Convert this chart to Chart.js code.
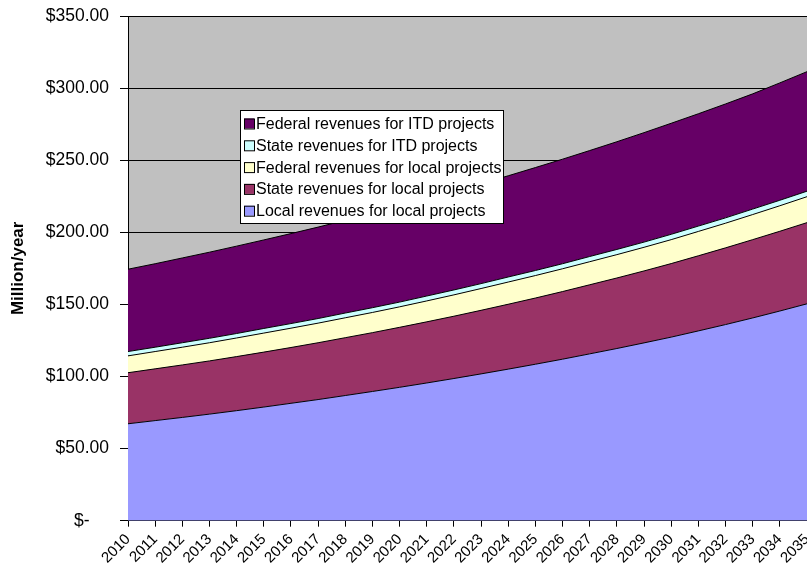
<!DOCTYPE html>
<html>
<head>
<meta charset="utf-8">
<script src="https://cdn.jsdelivr.net/npm/chart.js"></script>
<style>
  html, body { margin: 0; padding: 0; background: #ffffff; }
</style>
</head>
<body>
<canvas id="myChart" width="807" height="571"></canvas>
<script>
// values, million $ per year
const years = ['2010', '2011', '2012', '2013', '2014', '2015', '2016', '2017', '2018',
  '2019', '2020', '2021', '2022', '2023', '2024', '2025', '2026', '2027', '2028',
  '2029', '2030', '2031', '2032', '2033', '2034', '2035'];

const localForLocal = [67.2, 69.4, 71.6, 73.9, 76.3, 78.8, 81.4, 84.0, 86.8, 89.6, 92.5,
  95.5, 98.6, 101.8, 105.1, 108.5, 112.0, 115.7, 119.4, 123.3, 127.3, 131.6, 136.0,
  140.6, 145.4, 150.4];
const stateForLocal = [35.4, 35.9, 36.4, 36.9, 37.5, 38.1, 38.7, 39.4, 40.1, 40.8, 41.6,
  42.4, 43.2, 44.1, 45.0, 45.9, 46.9, 47.9, 48.9, 49.9, 51.0, 52.1, 53.2, 54.3, 55.3, 56.3];
const federalForLocal = [11.7, 12.0, 12.3, 12.6, 12.9, 13.2, 13.4, 13.6, 13.8, 14.0, 14.2,
  14.5, 14.8, 15.1, 15.4, 15.6, 15.8, 16.0, 16.2, 16.4, 16.6, 16.9, 17.1, 17.4, 17.7, 18.0];
const stateForITD = [3.0, 3.0, 3.1, 3.1, 3.1, 3.2, 3.2, 3.2, 3.3, 3.3, 3.3, 3.4, 3.4, 3.4,
  3.5, 3.5, 3.5, 3.6, 3.6, 3.6, 3.7, 3.7, 3.7, 3.8, 3.8, 3.8];
const federalForITD = [57.1, 57.9, 58.8, 59.7, 60.6, 61.4, 62.4, 63.4, 64.3, 65.4, 66.4,
  67.3, 68.3, 69.3, 70.2, 71.4, 72.5, 73.5, 74.7, 75.9, 77.0, 77.9, 79.0, 79.9, 81.4, 82.9];

const seriesNames = ['Local revenues for local projects', 'State revenues for local projects',
  'Federal revenues for local projects', 'State revenues for ITD projects',
  'Federal revenues for ITD projects'];
const seriesData = [localForLocal, stateForLocal, federalForLocal, stateForITD, federalForITD];
const fillColors = ['#9999FF', '#993366', '#FFFFCC', '#CCFFFF', '#660066'];

const FONT = "'Liberation Sans', Arial, sans-serif";

// gray plot background, like the excel default
const plotBackground = {
  id: 'plotBackground',
  beforeDraw(chart) {
    const { ctx, chartArea: a } = chart;
    ctx.save();
    ctx.fillStyle = '#C0C0C0';
    ctx.fillRect(a.left, a.top, a.right - a.left, a.bottom - a.top);
    ctx.restore();
  }
};

// boxed legend sitting inside the plot, top series first
const boxLegend = {
  id: 'boxLegend',
  afterDraw(chart) {
    const { ctx, chartArea: a } = chart;
    const x = a.left + 112, y = a.top + 94;
    const w = 263, h = 113, rowH = 21.8;
    ctx.save();
    ctx.fillStyle = '#ffffff';
    ctx.fillRect(x, y, w, h);
    ctx.strokeStyle = '#000000';
    ctx.lineWidth = 1;
    ctx.strokeRect(x + 0.5, y + 0.5, w, h);
    ctx.font = '16px ' + FONT;
    ctx.textBaseline = 'middle';
    const sets = chart.data.datasets.slice().reverse();
    sets.forEach((ds, i) => {
      const cy = y + 13.5 + i * rowH;
      ctx.fillStyle = ds.backgroundColor;
      ctx.fillRect(x + 4, cy - 5, 10, 10);
      ctx.strokeRect(x + 4.5, cy - 4.5, 10, 10);
      ctx.fillStyle = '#000000';
      ctx.fillText(ds.label, x + 16, cy + 1);
    });
    ctx.restore();
  }
};

const ctx = document.getElementById('myChart').getContext('2d');
new Chart(ctx, {
  type: 'line',
  data: {
    labels: years,
    datasets: seriesData.map((values, i) => ({
      label: seriesNames[i],
      data: values,
      backgroundColor: fillColors[i],
      borderColor: '#000000',
      borderWidth: 1,
      pointRadius: 0,
      tension: 0,
      fill: i === 0 ? 'origin' : '-1'
    }))
  },
  options: {
    responsive: false,
    animation: false,
    layout: { padding: { top: 16, right: 0, left: 0, bottom: 0 } },
    plugins: {
      legend: { display: false },
      tooltip: { enabled: false }
    },
    scales: {
      x: {
        offset: false,
        grid: {
          drawOnChartArea: false,
          drawTicks: true,
          tickLength: 6,
          color: '#000000'
        },
        border: { color: '#000000', width: 1 },
        ticks: {
          color: '#000000',
          font: { family: FONT, size: 15 },
          minRotation: 45,
          maxRotation: 45,
          autoSkip: false,
          padding: 4
        },
        afterFit(scale) {
          scale.paddingRight = 0;
        }
      },
      y: {
        stacked: true,
        min: 0,
        max: 350,
        grid: {
          color: '#000000',
          lineWidth: 1,
          drawTicks: true,
          tickLength: 8
        },
        border: { color: '#000000', width: 1 },
        ticks: {
          stepSize: 50,
          color: '#000000',
          font: { family: FONT, size: 17.5 },
          padding: 11,
          callback: v => v === 0 ? '$-    ' : '$' + v.toFixed(2)
        },
        title: {
          display: true,
          text: 'Million/year',
          color: '#000000',
          font: { family: FONT, size: 17, weight: 'bold' },
          padding: { top: 8, bottom: 0 }
        },
        afterFit(scale) {
          scale.width = 128;
          scale.paddingTop = 0;
          scale.paddingBottom = 0;
        }
      }
    }
  },
  plugins: [plotBackground, boxLegend]
});
</script>
</body>
</html>
